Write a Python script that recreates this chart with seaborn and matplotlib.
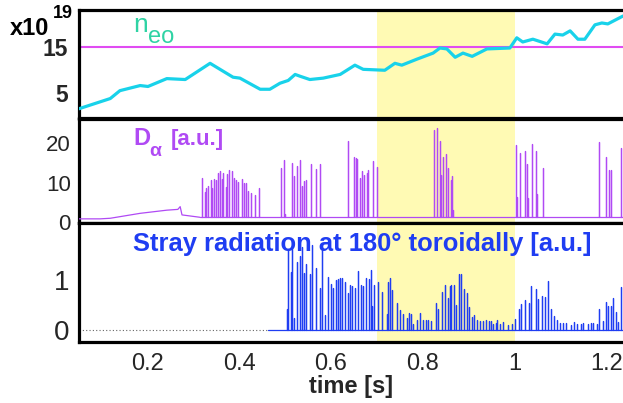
import numpy as np
import pandas as pd
import matplotlib
matplotlib.use("Agg")
import matplotlib.pyplot as plt
import seaborn as sns

# ---------------- data ----------------
# line-averaged density n_eo [1e19 m^-3]
ne_time = [0.052, 0.120, 0.141, 0.185, 0.202, 0.243, 0.283, 0.337, 0.387, 0.402,
           0.446, 0.467, 0.489, 0.507, 0.522, 0.533, 0.554, 0.583, 0.620, 0.652,
           0.670, 0.717, 0.739, 0.754, 0.787, 0.822, 0.837, 0.852, 0.870, 0.887,
           0.907, 0.939, 0.989, 1.004, 1.017, 1.039, 1.070, 1.087, 1.104, 1.120,
           1.137, 1.152, 1.174, 1.189, 1.202, 1.235]
ne_value = [1.7, 3.9, 5.6, 6.7, 6.5, 8.2, 8.0, 11.5, 8.5, 8.3,
            5.9, 5.9, 7.2, 7.8, 9.1, 8.7, 8.0, 8.3, 9.1, 11.1,
            10.2, 10.0, 11.5, 11.1, 12.4, 13.7, 14.8, 14.6, 12.8, 13.7,
            13.0, 14.6, 14.8, 17.0, 16.1, 16.7, 15.7, 17.8, 17.6, 18.5,
            16.7, 16.7, 19.8, 20.2, 20.0, 21.7]
ne_reference = 15.0

# D-alpha: slow ramp before the ELMy phase, then the bursts
da_ramp_time = [0.052, 0.098, 0.120, 0.185, 0.243, 0.267, 0.272, 0.276, 0.315]
da_ramp_value = [0.8, 0.8, 0.95, 2.2, 3.0, 3.2, 3.9, 1.8, 1.2]
da_base = 1.2
da_spike_time = [0.320, 0.325, 0.329, 0.333, 0.338, 0.342, 0.346, 0.349, 0.354, 0.359,
                 0.362, 0.366, 0.371, 0.374, 0.378, 0.385, 0.389, 0.394, 0.398, 0.406,
                 0.411, 0.415, 0.420, 0.425, 0.435, 0.443,
                 0.491, 0.498, 0.501, 0.515, 0.520, 0.527, 0.533, 0.536, 0.542, 0.546,
                 0.556, 0.567, 0.577,
                 0.638, 0.651, 0.654, 0.657, 0.662, 0.664, 0.668, 0.671, 0.678, 0.681,
                 0.691, 0.699,
                 0.825, 0.830, 0.838, 0.839, 0.843, 0.850, 0.855, 0.860, 0.864, 0.866,
                 1.003, 1.005, 1.012, 1.022, 1.027, 1.029, 1.038, 1.046, 1.048, 1.061,
                 1.183, 1.197, 1.205, 1.209, 1.230]
da_spike_height = [11.1, 7.7, 8.5, 9.2, 10.6, 8.5, 10.8, 10.6, 12.5, 12.9,
                   10.8, 12.3, 8.9, 12.1, 13.3, 12.9, 11.1, 10.6, 10.1, 10.8,
                   9.9, 10.0, 7.8, 7.4, 6.8, 8.5,
                   13.6, 15.7, 2.0, 14.9, 11.6, 14.3, 15.7, 9.1, 10.4, 10.6,
                   14.7, 13.4, 14.7,
                   20.5, 16.4, 16.1, 15.9, 11.1, 4.0, 12.9, 11.9, 12.3, 13.3,
                   15.4, 14.0,
                   23.3, 23.7, 20.6, 12.0, 16.4, 17.2, 13.6, 10.6, 11.6, 3.0,
                   19.5, 6.3, 17.4, 18.0, 14.7, 6.0, 19.7, 18.0, 7.0, 13.8,
                   20.3, 16.4, 13.3, 13.3, 18.7]

# stray radiation at 180 deg toroidally
stray_start = 0.463
stray_spike_time = [0.504, 0.507, 0.512, 0.516, 0.520, 0.527, 0.533, 0.538, 0.542, 0.546,
                    0.554, 0.558, 0.567, 0.576, 0.581, 0.588, 0.594, 0.600, 0.605, 0.610,
                    0.615, 0.620, 0.625, 0.630, 0.638, 0.641, 0.646, 0.652, 0.659, 0.665,
                    0.670, 0.676, 0.682, 0.687, 0.689, 0.694, 0.703, 0.710, 0.721, 0.723,
                    0.728, 0.733, 0.743, 0.751, 0.757, 0.765, 0.769, 0.773, 0.778, 0.786,
                    0.793, 0.801, 0.806, 0.811, 0.817, 0.828, 0.833, 0.842, 0.849, 0.854,
                    0.858, 0.862, 0.867, 0.872, 0.878, 0.883, 0.890, 0.895, 0.900, 0.906,
                    0.911, 0.917, 0.925, 0.931, 0.937, 0.943, 0.948, 0.953, 0.958, 0.962,
                    0.967, 0.975, 0.985, 0.994, 1.000, 1.009, 1.014, 1.022, 1.030, 1.036,
                    1.046, 1.051, 1.059, 1.065, 1.072, 1.078, 1.085, 1.092, 1.099, 1.105,
                    1.111, 1.121, 1.128, 1.136, 1.143, 1.149, 1.158, 1.165, 1.170, 1.178,
                    1.183, 1.192, 1.197, 1.203, 1.209, 1.214, 1.220, 1.225, 1.230]
stray_spike_height = [0.42, 1.62, 1.17, 1.62, 0.25, 1.37, 1.49, 1.67, 1.15, 1.32,
                      1.12, 1.71, 1.25, 0.84, 1.60, 0.30, 1.07, 0.92, 0.85, 1.00,
                      1.03, 1.05, 1.05, 0.97, 0.75, 0.90, 0.88, 0.84, 1.19, 0.90,
                      0.88, 1.05, 1.03, 1.20, 0.49, 0.90, 0.97, 0.77, 0.32, 0.97,
                      1.05, 0.80, 0.54, 0.40, 0.33, 0.25, 0.35, 0.32, 0.13, 0.20,
                      0.35, 0.20, 0.20, 0.20, 0.19, 0.55, 0.42, 0.77, 0.90, 0.65,
                      0.88, 0.90, 0.90, 0.50, 1.12, 1.12, 0.82, 0.74, 0.46, 0.26,
                      0.30, 0.20, 0.18, 0.18, 0.20, 0.19, 0.19, 0.13, 0.14, 0.20,
                      0.13, 0.16, 0.10, 0.13, 0.23, 0.42, 0.52, 0.60, 0.54, 0.89,
                      0.82, 0.62, 0.69, 0.67, 0.99, 0.42, 0.29, 0.20, 0.14, 0.14,
                      0.14, 0.10, 0.16, 0.13, 0.13, 0.14, 0.13, 0.14, 0.14, 0.13,
                      0.42, 0.19, 0.56, 0.49, 0.49, 0.64, 0.36, 0.17, 0.87]
stray_base = 0.0

window = (0.7, 1.0)
t_range = (0.052, 1.235)
xticks = [0.2, 0.4, 0.6, 0.8, 1.0, 1.2]
xtick_labels = ["0.2", "0.4", "0.6", "0.8", "1", "1.2"]

# ---------------- style ----------------
sns.set_style("white")
plt.rcParams["font.family"] = ["Liberation Sans", "DejaVu Sans"]

C_NE = "#18d2ea"
C_NE_TXT = "#2fd3a4"
C_REF = "#e04cf2"
C_DA = "#b04af4"
C_STRAY = "#1f3df2"
C_BAND = "#fffab4"


def spike_trace(t0, base, times, heights, t_end):
    t, v = [t0], [base]
    for ti, hi in zip(times, heights):
        t += [ti, ti, ti]
        v += [base, hi, base]
    t.append(t_end)
    v.append(base)
    return pd.DataFrame({"t": t, "v": v})


W, H = 623, 403
fig = plt.figure(figsize=(W / 100, H / 100), dpi=100)


def px_axes(top, bottom, left=79, right=623):
    return fig.add_axes([left / W, 1 - bottom / H, (right - left) / W, (bottom - top) / H])


ax1 = px_axes(10, 118)
ax2 = px_axes(119, 223)
ax3 = px_axes(223, 342)

for ax in (ax1, ax2, ax3):
    ax.axvspan(*window, color=C_BAND, lw=0, zorder=0)
    ax.set_xlim(*t_range)
    for side in ("left", "top", "bottom"):
        ax.spines[side].set_linewidth(2.3)
        ax.spines[side].set_color("black")
    ax.spines["right"].set_visible(False)
    ax.tick_params(length=0)

# --- density panel ---
ne_df = pd.DataFrame({"t": ne_time, "v": ne_value})
ax1.axhline(ne_reference, color=C_REF, lw=1.5, zorder=2)
sns.lineplot(data=ne_df, x="t", y="v", ax=ax1, color=C_NE, lw=2.3, zorder=3)
ax1.set_ylim(-0.3, 23)
ax1.set_yticks([5, 15])
ax1.set_yticklabels(["5", "15"], fontsize=16.5, fontweight="bold")
ax1.tick_params(axis="y", pad=8)
ax1.set_xticks(xticks)
ax1.set_xticklabels([])
ax1.set_xlabel("")
ax1.set_ylabel("")

# --- D-alpha panel ---
ramp_df = pd.DataFrame({"t": da_ramp_time, "v": da_ramp_value})
sns.lineplot(data=ramp_df, x="t", y="v", ax=ax2, color=C_DA, lw=0.9, sort=False,
             estimator=None, zorder=3)
da_df = spike_trace(da_ramp_time[-1], da_base, da_spike_time, da_spike_height, t_range[1])
sns.lineplot(data=da_df, x="t", y="v", ax=ax2, color=C_DA, lw=0.9, sort=False,
             estimator=None, zorder=3)
ax2.set_ylim(-0.25, 26.1)
ax2.set_yticks([0, 10, 20])
ax2.set_yticklabels(["0", "10", "20"], fontsize=16)
ax2.tick_params(axis="y", pad=6)
ax2.set_xticks(xticks)
ax2.set_xticklabels([])
ax2.set_xlabel("")
ax2.set_ylabel("")

# --- stray radiation panel ---
ax3.plot([t_range[0], stray_start], [stray_base, stray_base], color="#666666",
         lw=0.8, ls=(0, (1, 2)), zorder=2)
st_df = spike_trace(stray_start, stray_base, stray_spike_time, stray_spike_height, t_range[1])
sns.lineplot(data=st_df, x="t", y="v", ax=ax3, color=C_STRAY, lw=0.9, sort=False,
             estimator=None, zorder=3)
ax3.set_ylim(-0.24, 2.14)
ax3.set_yticks([0, 1])
ax3.set_yticklabels(["0", "1"], fontsize=20)
ax3.tick_params(axis="y", pad=7)
ax3.set_xticks(xticks)
ax3.set_xticklabels(xtick_labels, fontsize=17)
ax3.tick_params(axis="x", pad=8)
ax3.set_xlabel("time [s]", fontsize=17, fontweight="bold", labelpad=0)
ax3.set_ylabel("")


def ftext(x, y, s, **kw):
    fig.text(x / W, 1 - y / H, s, va="baseline", ha="left", **kw)


# panel labels
ftext(10, 35, "x10", fontsize=17, fontweight="bold", color="black")
ftext(53, 18, "19", fontsize=13, fontweight="bold", color="black")
ftext(133, 32, "n", fontsize=19, color=C_NE_TXT)
ftext(148, 43, "eo", fontsize=17, color=C_NE_TXT)
ftext(133, 145, "D", fontsize=17, fontweight="bold", color=C_DA)
ftext(149, 156, "α", fontsize=14, fontweight="bold", color=C_DA)
ftext(171, 145, "[a.u.]", fontsize=16, fontweight="bold", color=C_DA)
ftext(133, 251, "Stray radiation at 180° toroidally [a.u.]", fontsize=18.4,
      fontweight="bold", color=C_STRAY)

fig.savefig("out.png", dpi=100)
